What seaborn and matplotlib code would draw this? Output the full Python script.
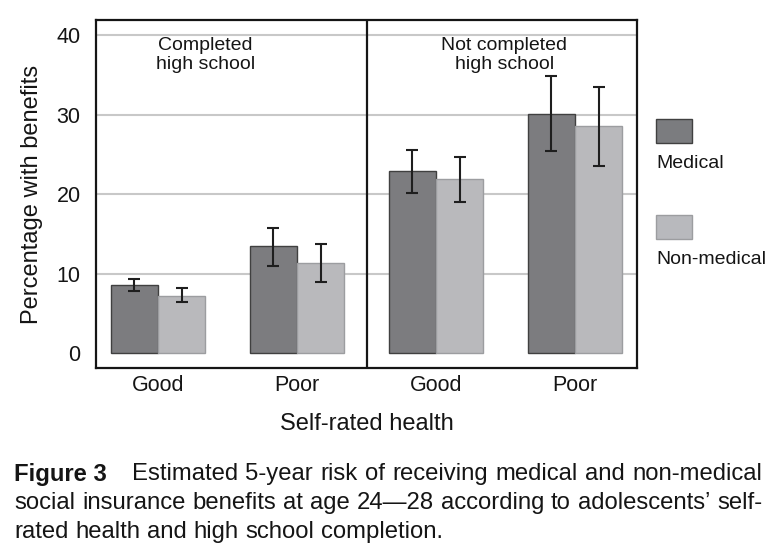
import matplotlib
matplotlib.use("Agg")
import matplotlib.pyplot as plt
import seaborn as sns
import pandas as pd
import numpy as np
from matplotlib.patches import Rectangle

# ---- data ----
groups = ["Completed high school", "Completed high school",
          "Not completed high school", "Not completed high school"]
health = ["Good", "Poor", "Good", "Poor"]
medical = [8.6, 13.5, 22.9, 30.1]
medical_lo = [7.8, 11.0, 20.2, 25.4]
medical_hi = [9.4, 15.8, 25.6, 34.8]
nonmedical = [7.2, 11.3, 21.9, 28.6]
nonmedical_lo = [6.5, 9.0, 19.0, 23.6]
nonmedical_hi = [8.2, 13.7, 24.7, 33.5]
series = ["Medical", "Non-medical"]
panel_titles = ["Completed\nhigh school", "Not completed\nhigh school"]
yticks = [0, 10, 20, 30, 40]
caption_label = "Figure 3"
caption_lines = [
    "Estimated 5-year risk of receiving medical and non-medical",
    "social insurance benefits at age 24\u201428 according to adolescents\u2019 self-",
    "rated health and high school completion.",
]

colors = {"Medical": "#7b7c7f", "Non-medical": "#b8b9bd"}
edges = {"Medical": "#404040", "Non-medical": "#9c9da0"}

cats = [f"{g}|{h}" for g, h in zip(groups, health)]
df = pd.DataFrame({
    "cat": cats * 2,
    "series": [series[0]] * 4 + [series[1]] * 4,
    "value": medical + nonmedical,
    "lo": medical_lo + nonmedical_lo,
    "hi": medical_hi + nonmedical_hi,
})

sns.set_theme(style="white")
plt.rcParams["font.family"] = ["Liberation Sans", "DejaVu Sans"]
TXT = "#151515"

fig = plt.figure(figsize=(7.71, 5.59), dpi=100)
W, H = 771, 559
ax = fig.add_axes([96 / W, 1 - 368 / H, (637 - 96) / W, (368 - 20) / H])

sns.barplot(data=df, x="cat", y="value", hue="series", order=cats,
            hue_order=series, palette=colors, width=0.68, errorbar=None,
            legend=False, ax=ax, zorder=2)

for container, s in zip(ax.containers, series):
    sub = df[df.series == s].set_index("cat").loc[cats]
    xs = []
    for patch in container.patches:
        patch.set_edgecolor(edges[s])
        patch.set_linewidth(1.0)
        xs.append(patch.get_x() + patch.get_width() / 2)
    vals = sub["value"].values
    err = np.vstack([vals - sub["lo"].values, sub["hi"].values - vals])
    ax.errorbar(xs, vals, yerr=err, fmt="none", ecolor="#1e1e1e",
                elinewidth=1.5, capsize=4.2, capthick=1.5, zorder=3)

ax.set_xlim(-0.446, 3.446)
ax.set_ylim(-1.85, 41.9)
ax.set_yticks(yticks)
ax.set_yticklabels([str(t) for t in yticks], fontsize=15.5, color=TXT)
ax.set_xticks(range(4))
ax.set_xticklabels(health, fontsize=15.5, color=TXT)
ax.tick_params(axis="y", direction="out", length=7, width=1.5, color=TXT, pad=4)
ax.tick_params(axis="x", length=0, pad=5)
for y in yticks[1:]:
    ax.axhline(y, color="#c8c8c8", lw=1.5, zorder=0.5)
for sp in ax.spines.values():
    sp.set_visible(True)
    sp.set_color(TXT)
    sp.set_linewidth(1.6)
ax.axvline(1.5, color=TXT, lw=1.6, zorder=4)

ax.set_xlabel("Self-rated health", fontsize=17, color=TXT, labelpad=12)
ax.set_ylabel("Percentage with benefits", fontsize=17, color=TXT, labelpad=10)

ax.text(0.34, 39.75, panel_titles[0], ha="center", va="top", fontsize=14,
        color=TXT, linespacing=1.15)
ax.text(2.49, 39.75, panel_titles[1], ha="center", va="top", fontsize=14,
        color=TXT, linespacing=1.15)

# legend (manual, stacked patches with labels underneath)
leg = [(series[0], 119, 163), (series[1], 215, 260)]
for s, ptop, ly in leg:
    fig.add_artist(Rectangle((656 / W, 1 - (ptop + 24) / H), 36 / W, 24 / H,
                             transform=fig.transFigure, facecolor=colors[s],
                             edgecolor=edges[s], lw=1.0))
    fig.text(656 / W, 1 - ly / H, s, ha="left", va="center", fontsize=14,
             color=TXT)

# caption, justified like the journal layout
fig.canvas.draw()
renderer = fig.canvas.get_renderer()
CS = 17.2


def word_widths(words, **kw):
    out = []
    for w in words:
        t = fig.text(0, 0, w, fontsize=CS, **kw)
        out.append(t.get_window_extent(renderer).width)
        t.remove()
    return out


def place_line(text, left, right, yc, justify=True):
    words = text.split(" ")
    widths = word_widths(words)
    if justify and len(words) > 1:
        gap = (right - left - sum(widths)) / (len(words) - 1)
    else:
        gap = word_widths(["a b"])[0] - 2 * word_widths(["a"])[0]
    x = left
    for w, wd in zip(words, widths):
        fig.text(x / W, 1 - yc / H, w, ha="left", va="center", fontsize=CS,
                 color=TXT)
        x += wd + gap


fig.text(14 / W, 1 - 474 / H, caption_label, ha="left", va="center",
         fontsize=CS, fontweight="bold", color=TXT)
place_line(caption_lines[0], 132, 762, 474)
place_line(caption_lines[1], 14, 762, 503)
place_line(caption_lines[2], 14, 762, 532, justify=False)

fig.savefig("out.png", dpi=100)
